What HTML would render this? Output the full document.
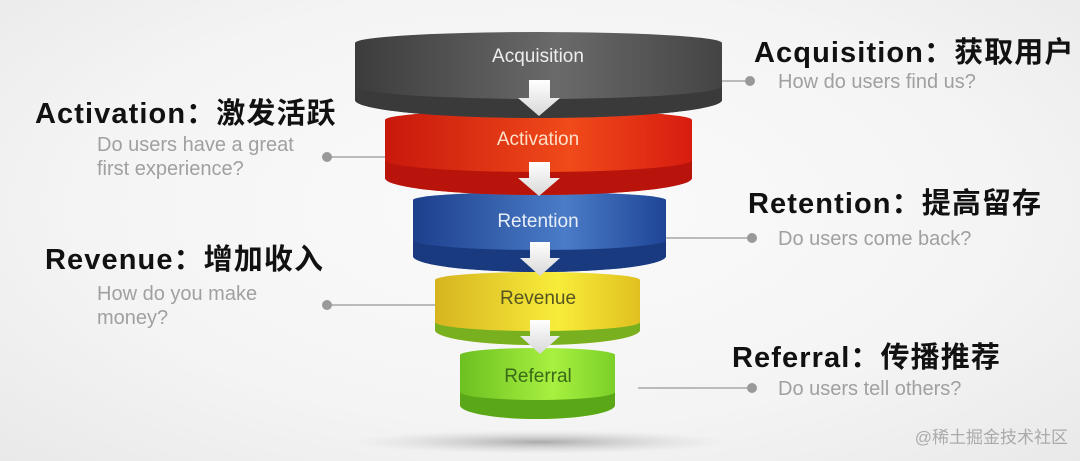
<!DOCTYPE html>
<html><head><meta charset="utf-8"><style>
html,body{margin:0;padding:0;}
body{width:1080px;height:461px;overflow:hidden;background:radial-gradient(ellipse at 50% 45%,#fbfbfb 0%,#f4f4f4 60%,#e9e9e9 100%);font-family:"Liberation Sans","Noto Sans CJK SC",sans-serif;}
svg{position:absolute;left:0;top:0}
</style></head><body>
<svg width="1080" height="461" viewBox="0 0 1080 461">
<defs>
<linearGradient id="g1" x1="0" x2="1"><stop offset="0" stop-color="#3c3c3c"/><stop offset=".55" stop-color="#6a6a6a"/><stop offset="1" stop-color="#444"/></linearGradient>
<linearGradient id="g2" x1="0" x2="1"><stop offset="0" stop-color="#c8180c"/><stop offset=".6" stop-color="#f04a1a"/><stop offset="1" stop-color="#d81c10"/></linearGradient>
<linearGradient id="g3" x1="0" x2="1"><stop offset="0" stop-color="#1d3f8c"/><stop offset=".6" stop-color="#4a7cc8"/><stop offset="1" stop-color="#1f4596"/></linearGradient>
<linearGradient id="g4" x1="0" x2="1"><stop offset="0" stop-color="#d6b420"/><stop offset=".6" stop-color="#f8ec3a"/><stop offset="1" stop-color="#e0c020"/></linearGradient>
<linearGradient id="g5" x1="0" x2="1"><stop offset="0" stop-color="#6cc020"/><stop offset=".6" stop-color="#a8f040"/><stop offset="1" stop-color="#7ad028"/></linearGradient>
<linearGradient id="ar" x1="0" x2="0" y1="0" y2="1"><stop offset="0" stop-color="#fff"/><stop offset="1" stop-color="#d8d8d8"/></linearGradient>
<radialGradient id="sh"><stop offset="0" stop-color="#999" stop-opacity=".8"/><stop offset="1" stop-color="#ccc" stop-opacity="0"/></radialGradient>
</defs>
<ellipse cx="540" cy="442" rx="190" ry="12" fill="url(#sh)"/>
<g stroke="#bbb" stroke-width="2"><line x1="722" y1="81" x2="750" y2="81"/><line x1="327" y1="157" x2="385" y2="157"/><line x1="666" y1="238" x2="752" y2="238"/><line x1="327" y1="305" x2="435" y2="305"/><line x1="638" y1="388" x2="752" y2="388"/></g>
<g fill="#999"><circle cx="750" cy="81" r="5"/><circle cx="327" cy="157" r="5"/><circle cx="752" cy="238" r="5"/><circle cx="327" cy="305" r="5"/><circle cx="752" cy="388" r="5"/></g>
<path d="M460,355 A77.5,7 0 0 1 615,355 L615,405 A77.5,14 0 0 1 460,405 Z" fill="url(#g5)"/>
<path d="M460,392 A77.5,8 0 0 0 615,392 L615,405 A77.5,14 0 0 1 460,405 Z" fill="#5aa818"/>
<path d="M435,280 A102.5,8 0 0 1 640,280 L640,330 A102.5,15 0 0 1 435,330 Z" fill="url(#g4)"/>
<path d="M435,322 A102.5,9 0 0 0 640,322 L640,330 A102.5,15 0 0 1 435,330 Z" fill="#78b020"/>
<path d="M413,200 A126.5,8 0 0 1 666,200 L666,256 A126.5,16 0 0 1 413,256 Z" fill="url(#g3)"/>
<path d="M413,240 A126.5,10 0 0 0 666,240 L666,256 A126.5,16 0 0 1 413,256 Z" fill="#1a3a80"/>
<path d="M385,120 A153.5,10 0 0 1 692,120 L692,178 A153.5,17 0 0 1 385,178 Z" fill="url(#g2)"/>
<path d="M385,160 A153.5,12 0 0 0 692,160 L692,178 A153.5,17 0 0 1 385,178 Z" fill="#b8140c"/>
<path d="M355,43 A183.5,11 0 0 1 722,43 L722,100 A183.5,18 0 0 1 355,100 Z" fill="url(#g1)"/>
<path d="M355,86 A183.5,13 0 0 0 722,86 L722,100 A183.5,18 0 0 1 355,100 Z" fill="#3a3a3a"/>
<g fill="url(#ar)">
<path d="M529,80 H550 V98 H560 L539,116 L518,98 H529 Z"/>
<path d="M529,162 H550 V178 H560 L539,196 L518,178 H529 Z"/>
<path d="M530,242 H550 V258 H560 L540,276 L520,258 H530 Z"/>
<path d="M530,320 H550 V336 H560 L540,354 L520,336 H530 Z"/>
</g>
<g font-family="Liberation Sans, sans-serif" font-size="19" text-anchor="middle">
<text x="538" y="62" fill="#eee">Acquisition</text>
<text x="538" y="145" fill="#fde0c8">Activation</text>
<text x="538" y="227" fill="#e8eef8">Retention</text>
<text x="538" y="304" fill="#555520">Revenue</text>
<text x="538" y="382" fill="#3a6a18">Referral</text>
</g>
<g font-family="Liberation Sans, Noto Sans CJK SC, sans-serif" font-weight="bold" font-size="29" fill="#111" letter-spacing="1.1">
<text x="754" y="62">Acquisition：获取用户</text>
<text x="35" y="123">Activation：激发活跃</text>
<text x="748" y="213">Retention：提高留存</text>
<text x="45" y="269">Revenue：增加收入</text>
<text x="732" y="367">Referral：传播推荐</text>
</g>
<g font-family="Liberation Sans, sans-serif" font-size="20" fill="#a0a0a0">
<text x="778" y="88">How do users find us?</text>
<text x="97" y="151">Do users have a great</text>
<text x="97" y="175">first experience?</text>
<text x="778" y="245">Do users come back?</text>
<text x="97" y="300">How do you make</text>
<text x="97" y="324">money?</text>
<text x="778" y="395">Do users tell others?</text>
</g>
<text x="1068" y="443" text-anchor="end" font-family="Liberation Sans, Noto Sans CJK SC, sans-serif" font-size="17" fill="#aaa">@稀土掘金技术社区</text>
</svg>
</body></html>
